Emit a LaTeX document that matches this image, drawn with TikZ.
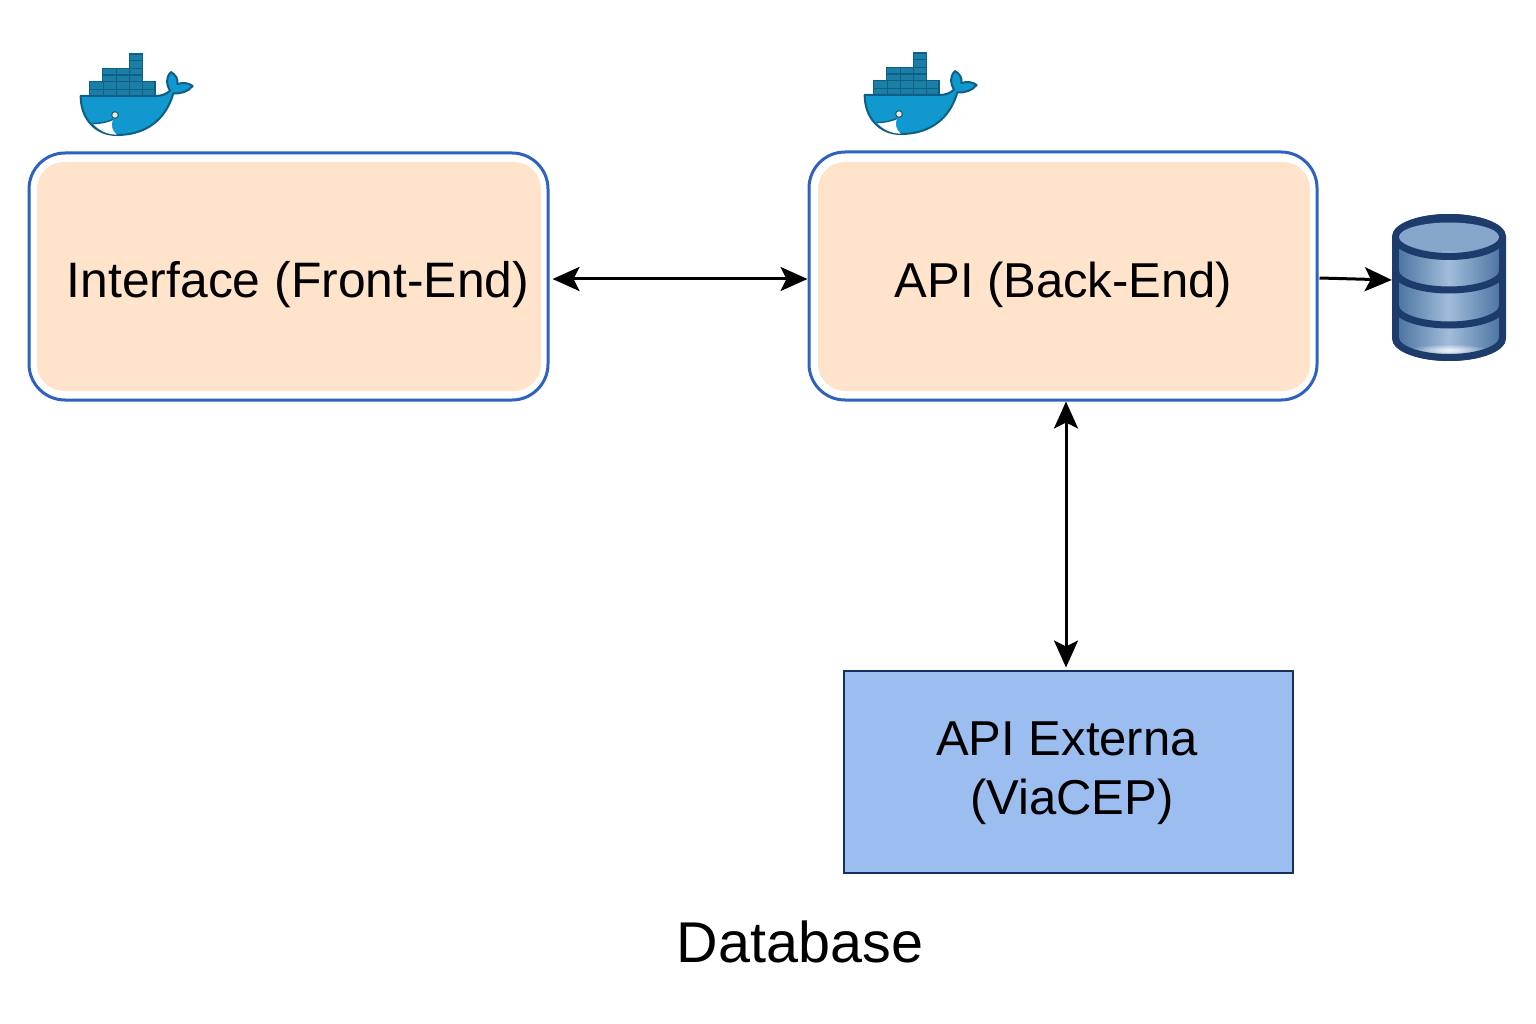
\documentclass[tikz,border=0pt]{standalone}
\usepackage{fontspec}
\setmainfont{Liberation Sans}
\usetikzlibrary{arrows.meta,fadings}
\tikzfading[name=glowfade,inner color=transparent!0,outer color=transparent!100]
\definecolor{peach}{HTML}{FFE3CA}
\definecolor{boxblue}{HTML}{2F62C0}
\definecolor{extfill}{HTML}{9BBDEF}
\definecolor{extline}{HTML}{17305F}
\definecolor{whale}{HTML}{1098CF}
\definecolor{whaleline}{HTML}{0F5F85}
\definecolor{crate}{HTML}{1B7EA6}
\definecolor{dbline}{HTML}{1D3C6C}
\definecolor{dbside}{HTML}{4F76A3}
\definecolor{dbmid}{HTML}{A2BDDB}
\definecolor{dbtop}{HTML}{86A6CC}
\tikzset{
  outerbox/.style={draw=boxblue,line width=3pt,fill=white,rounded corners=36pt,inner sep=0pt},
  innerbox/.style={fill=peach,rounded corners=27pt,inner sep=0pt},
  extbox/.style={draw=extline,line width=2pt,fill=extfill,inner sep=0pt},
  label/.style={font=\fontsize{49}{59}\selectfont,text=black,inner sep=0pt},
  biglabel/.style={font=\fontsize{57.5}{66}\selectfont,text=black,inner sep=0pt},
  arrowline/.style={line width=3pt,black,{Stealth[length=27pt,width=24pt,inset=6pt]}-{Stealth[length=27pt,width=24pt,inset=6pt]}},
  onearrow/.style={line width=3pt,black,-{Stealth[length=27pt,width=24pt,inset=6pt]}},
  crt/.style={fill=crate,draw=whaleline,line width=1.6pt},
  band/.style={left color=dbside,right color=dbside,middle color=dbmid,draw=none},
  dockerpic/.pic={
    \begin{scope}[x=0.3333pt,y=-0.3333pt]
      \foreach \a/\b in {88/130,130/170,170/208,208/248,248/285}{
        \draw[crt] (\a,125) rectangle (\b,148);
        \draw[crt] (\a,148) rectangle (\b,170);
      }
      \foreach \a/\b in {128/170,170/208,208/248}{
        \draw[crt] (\a,85) rectangle (\b,105);
        \draw[crt] (\a,105) rectangle (\b,125);
      }
      \draw[crt] (208,42) rectangle (248,62);
      \draw[crt] (208,62) rectangle (248,85);
      \draw[fill=whale,draw=whaleline,line width=2pt,line join=round]
        (62,168) -- (285,168) .. controls (305,168) and (320,162) .. (330,152)
        .. controls (320,135) and (315,115) .. (333,96)
        .. controls (348,105) and (355,118) .. (352,132)
        .. controls (370,126) and (388,130) .. (398,138)
        .. controls (385,155) and (362,162) .. (340,160)
        .. controls (325,215) and (280,285) .. (170,285)
        .. controls (105,285) and (62,235) .. (62,168) -- cycle;
      \fill[white] (98,250) .. controls (120,252) and (145,245) .. (160,238)
        .. controls (150,258) and (158,272) .. (170,284)
        .. controls (140,284) and (115,270) .. (98,250) -- cycle;
      \draw[whaleline,line width=1.4pt] (98,250) .. controls (120,252) and (145,245) .. (160,238);
      \draw[fill=peach,draw=whaleline,line width=1pt] (165,225) circle (10);
    \end{scope}
  }
}
\begin{document}
\begin{tikzpicture}[x=1pt,y=-1pt]
\useasboundingbox (0,0) rectangle (1536,1024);
% Docker icons
\pic at (60,40) {dockerpic};
\pic at (844,39) {dockerpic};
% Front-end
\node[outerbox,minimum width=519pt,minimum height=247pt] (front) at (288.5,276.5) {};
\node[innerbox,minimum width=504pt,minimum height=229pt] (frontin) at (289,276.5) {};
\node[label,font=\fontsize{49.8}{59}\selectfont] (frontlabel) at (298,285) {Interface (Front-End)};
% Back-end
\node[outerbox,minimum width=508pt,minimum height=248pt] (api) at (1063,276) {};
\node[innerbox,minimum width=492pt,minimum height=229pt] (apiin) at (1064,276.5) {};
\node[label] (apilabel) at (1063.5,285) {API (Back-End)};
% External API
\node[extbox,minimum width=449pt,minimum height=202pt] (ext) at (1068.5,772) {};
\node[label] (extlabel1) at (1067,739) {API Externa};
\node[label] (extlabel2) at (1072,802) {(ViaCEP)};
\node[biglabel] (dblabel) at (800,942) {Database};
% Database symbol
\node[minimum width=114pt,minimum height=148pt,inner sep=0pt] (db) at (1449,287.5) {};
\fill[dbline] (1392,237) arc[start angle=180,end angle=360,x radius=57,y radius=23]
   -- (1506,338) arc[start angle=0,end angle=180,x radius=57,y radius=23] -- cycle;
\foreach \yb/\yg in {271/10.5,306/10.5,338/12}{
  \begin{scope}
    \clip (1399,\yb-36) -- (1499,\yb-36) -- (1499,\yb)
      arc[start angle=0,end angle=180,x radius=50,y radius=17] -- cycle;
    \fill[band] (1399,\yb-36) rectangle (1499,\yb+20);
    \fill[white,path fading=glowfade,opacity=.85] (1449,\yb+\yg) ellipse[x radius=40,y radius=6];
  \end{scope}
}
\foreach \yb in {271,306}{
  \draw[dbline,line width=7pt] (1395.5,\yb) arc[start angle=180,end angle=0,x radius=53.5,y radius=19];
}
\draw[dbline,line width=7pt] (1449,237) ellipse[x radius=53.5,y radius=19.5];
\fill[dbtop] (1449,237) ellipse[x radius=50,y radius=14.5];
\draw[dbline,line width=7pt] (1395.5,237) -- (1395.5,338) (1502.5,237) -- (1502.5,338);
\draw[dbline,line width=7pt] (1395.5,338) arc[start angle=180,end angle=0,x radius=53.5,y radius=19.5];
% Connectors
\draw[arrowline] ([shift={(3,2.5)}]front.east) -- ([shift={(0,3)}]api.west);
\draw[arrowline] ([xshift=3pt,yshift=0pt]api.south) -- ([xshift=-2.5pt,yshift=2.5pt]ext.north);
\draw[onearrow] ([shift={(1,2)}]api.east) -- ([shift={(0,-7.5)}]db.west);
\end{tikzpicture}
\end{document}
